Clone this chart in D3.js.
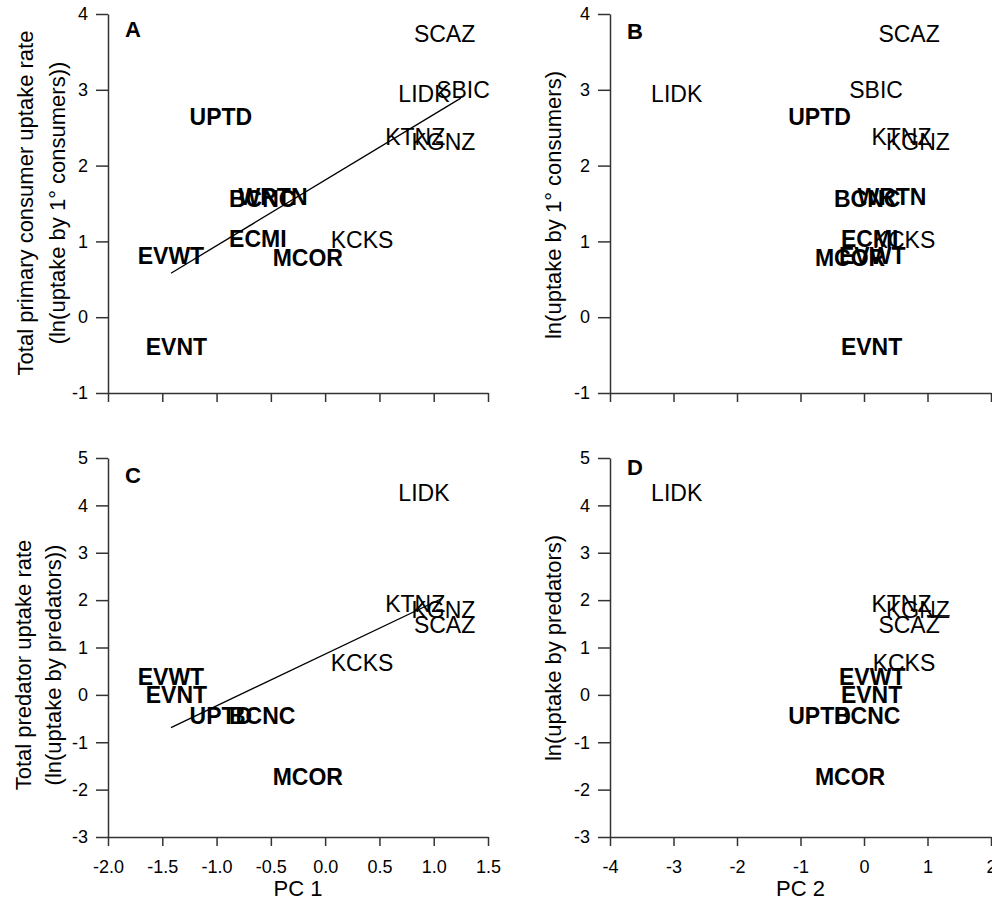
<!DOCTYPE html>
<html>
<head>
<meta charset="utf-8">
<script src="https://cdn.jsdelivr.net/npm/d3@7"></script>
<style>
  body { margin: 0; background: #fff; }
  svg { display: block; font-family: "Liberation Sans", Arial, sans-serif; }
</style>
</head>
<body>
<div id="chart"></div>
<script>
// site codes, and which ones are printed in bold
const sites = ["SCAZ", "LIDK", "SBIC", "UPTD", "KTNZ", "KGNZ", "BCNC", "WRTN", "ECMI", "KCKS", "EVWT", "MCOR", "EVNT"];
const boldSites = ["UPTD", "BCNC", "WRTN", "ECMI", "EVWT", "MCOR", "EVNT"];

// principal component scores
const pc1 = [1.10, 0.91, 1.27, -0.96, 0.83, 1.09, -0.58, -0.48, -0.62, 0.34, -1.42, -0.16, -1.37];
const pc2 = [0.71, -2.95, 0.19, -0.70, 0.59, 0.85, 0.05, 0.44, 0.09, 0.63, 0.13, -0.22, 0.12];

// ln uptake (null = not measured)
const primaryUptake = [3.74, 2.95, 3.00, 2.65, 2.38, 2.32, 1.56, 1.59, 1.03, 1.02, 0.81, 0.78, -0.39];
const predatorUptake = [1.49, 4.26, null, -0.43, 1.93, 1.79, -0.45, null, null, 0.68, 0.38, -1.73, 0.00];

// fitted lines (end points)
const fitA = { x: [-1.42, 1.25], y: [0.58, 2.89] };
const fitC = { x: [-1.42, 1.08], y: [-0.69, 2.04] };
const segD = { x: [0.99, 1.35], y: [1.67, 1.67] };

// tick values
const pc1Ticks = [-2.0, -1.5, -1.0, -0.5, 0.0, 0.5, 1.0, 1.5];
const pc2Ticks = [-4, -3, -2, -1, 0, 1, 2];
const primaryTicks = [-1, 0, 1, 2, 3, 4];
const predatorTicks = [-3, -2, -1, 0, 1, 2, 3, 4, 5];

function drawPanels() {
    const W = 992, H = 909;
    const svg = d3.select("#chart")
        .append("svg")
        .attr("width", W)
        .attr("height", H);

    const fmt1 = d => d.toFixed(1);
    const fmt0 = d => String(d);

    const colLeft = { range: [108, 488] };
    const colRight = { range: [610, 991] };
    const rowTop = { range: [393, 14] };
    const rowBottom = { range: [837, 458] };

    const panels = [
        {
            letter: "A", letterDy: 23, col: colLeft, row: rowTop,
            xs: pc1, ys: primaryUptake, xDomain: [-2, 1.5], yDomain: [-1, 4],
            xTicks: pc1Ticks, yTicks: primaryTicks, xFmt: null, fit: fitA,
            yTitle: ["Total primary consumer uptake rate", "(ln(uptake by 1\u00b0 consumers))"],
            titleX: [25, 57], titleY: 203
        },
        {
            letter: "B", letterDy: 25, col: colRight, row: rowTop,
            xs: pc2, ys: primaryUptake, xDomain: [-4, 2], yDomain: [-1, 4],
            xTicks: pc2Ticks, yTicks: primaryTicks, xFmt: null, fit: null,
            yTitle: ["ln(uptake by 1\u00b0 consumers)"],
            titleX: [553], titleY: 205
        },
        {
            letter: "C", letterDy: 25, col: colLeft, row: rowBottom,
            xs: pc1, ys: predatorUptake, xDomain: [-2, 1.5], yDomain: [-3, 5],
            xTicks: pc1Ticks, yTicks: predatorTicks, xFmt: fmt1, fit: fitC,
            yTitle: ["Total predator uptake rate", "(ln(uptake by predators))"],
            titleX: [23, 53], titleY: 665, xTitle: "PC 1"
        },
        {
            letter: "D", letterDy: 17, col: colRight, row: rowBottom,
            xs: pc2, ys: predatorUptake, xDomain: [-4, 2], yDomain: [-3, 5],
            xTicks: pc2Ticks, yTicks: predatorTicks, xFmt: fmt0, fit: segD,
            yTitle: ["ln(uptake by predators)"],
            titleX: [553], titleY: 648, xTitle: "PC 2"
        }
    ];

    panels.forEach(p => {
        const x = d3.scaleLinear().domain(p.xDomain).range(p.col.range);
        const y = d3.scaleLinear().domain(p.yDomain).range(p.row.range);
        const g = svg.append("g");

        const xAxis = d3.axisBottom(x)
            .tickValues(p.xTicks)
            .tickSize(9)
            .tickSizeOuter(0)
            .tickPadding(14)
            .tickFormat(p.xFmt ? p.xFmt : "");

        g.append("g")
            .attr("transform", `translate(0,${p.row.range[0]})`)
            .call(xAxis)
            .call(a => a.selectAll("path, line").attr("stroke", "#333").attr("stroke-width", 1.5))
            .call(a => a.selectAll("text").style("font-size", "18px").attr("fill", "#000")
                .style("font-family", "'Liberation Sans', Arial, sans-serif"));

        const yAxis = d3.axisLeft(y)
            .tickValues(p.yTicks)
            .tickSize(12)
            .tickSizeOuter(0)
            .tickPadding(8)
            .tickFormat(fmt0);

        g.append("g")
            .attr("transform", `translate(${p.col.range[0]},0)`)
            .call(yAxis)
            .call(a => a.selectAll("path, line").attr("stroke", "#333").attr("stroke-width", 1.5))
            .call(a => a.selectAll("text").style("font-size", "18px").attr("fill", "#000")
                .style("font-family", "'Liberation Sans', Arial, sans-serif"));

        if (p.fit) {
            const line = d3.line().x(d => x(d[0])).y(d => y(d[1]));
            g.append("path")
                .attr("d", line(d3.zip(p.fit.x, p.fit.y)))
                .attr("fill", "none")
                .attr("stroke", "#000")
                .attr("stroke-width", 1.3);
        }

        const pts = sites
            .map((s, i) => ({ site: s, x: p.xs[i], y: p.ys[i] }))
            .filter(d => d.y !== null);

        g.selectAll(".site")
            .data(pts)
            .enter()
            .append("text")
            .attr("class", "site")
            .attr("x", d => x(d.x))
            .attr("y", d => y(d.y))
            .attr("dy", "0.36em")
            .attr("text-anchor", "middle")
            .style("font-size", "23px")
            .style("font-weight", d => boldSites.includes(d.site) ? "bold" : "normal")
            .attr("fill", "#000")
            .text(d => d.site);

        g.append("text")
            .attr("x", p.col.range[0] + 17)
            .attr("y", p.row.range[1] + p.letterDy)
            .style("font-size", "22px")
            .style("font-weight", "bold")
            .text(p.letter);

        p.yTitle.forEach((t, i) => {
            g.append("text")
                .attr("transform", `translate(${p.titleX[i]},${p.titleY}) rotate(-90)`)
                .attr("text-anchor", "middle")
                .attr("dy", "0.36em")
                .style("font-size", "22px")
                .attr("fill", "#000")
                .text(t);
        });

        if (p.xTitle) {
            g.append("text")
                .attr("x", (p.col.range[0] + p.col.range[1]) / 2)
                .attr("y", 888)
                .attr("dy", "0.36em")
                .attr("text-anchor", "middle")
                .style("font-size", "22px")
                .text(p.xTitle);
        }
    });
}

window.addEventListener("load", drawPanels);
</script>
</body>
</html>
